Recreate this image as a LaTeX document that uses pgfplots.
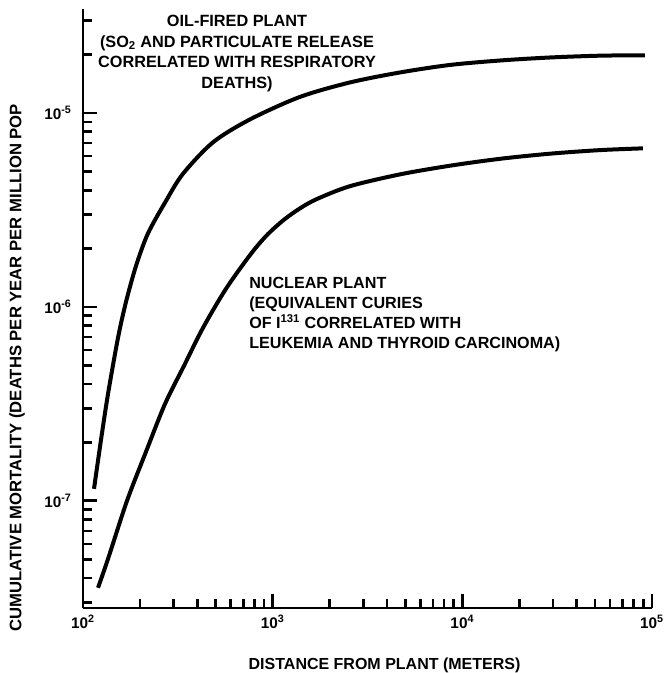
\documentclass[border=0pt]{standalone}
\usepackage{fontspec}
\setmainfont{Liberation Sans}
\usepackage{pgfplots}
\pgfplotsset{compat=1.18}
\begin{document}
\begin{tikzpicture}
\begin{axis}[
  at={(62.25pt,48.75pt)}, anchor=south west,
  scale only axis, width=426.75pt, height=449.25pt,
  xmode=log, ymode=log,
  xmin=100, xmax=100000, ymin=2.8e-8, ymax=3.44e-5,
  axis x line*=bottom, axis y line*=left,
  axis line style={line width=2.2pt},
  xtick={100,1000,10000,100000},
  xticklabels={10\textsuperscript{2},10\textsuperscript{3},10\textsuperscript{4},10\textsuperscript{5}},
  minor xtick={200,300,400,500,600,700,800,900,2000,3000,4000,5000,6000,7000,8000,9000,20000,30000,40000,50000,60000,70000,80000,90000},
  ytick={1e-7,1e-6,1e-5},
  yticklabels={10\textsuperscript{-7},10\textsuperscript{-6},10\textsuperscript{-5}},
  minor ytick={3e-8,4e-8,5e-8,6e-8,7e-8,8e-8,9e-8,2e-7,3e-7,4e-7,5e-7,6e-7,7e-7,8e-7,9e-7,2e-6,3e-6,4e-6,5e-6,6e-6,7e-6,8e-6,9e-6,2e-5,3e-5},
  tick label style={font=\bfseries\fontsize{11.5}{13}\selectfont},
  tick align=inside,
  major tick length=10.5pt, minor tick length=6.5pt,
  tick style={line width=2pt, black},
  every major tick/.append style={line width=2pt, black},
  every minor tick/.append style={line width=2pt, black},
  yticklabel style={xshift=-5pt},
  xticklabel style={yshift=-2pt},
  clip=false,
]
\addplot[line width=3pt, smooth, black] coordinates {
(114.3,1.153e-7) (124.4,2.06e-7) (135.5,3.56e-7) (152.9,6.92e-7)
(168.5,1.06e-6) (190.3,1.627e-6) (220.1,2.395e-6) (273.8,3.52e-6)
(336.6,4.86e-6) (484.4,7.06e-6) (759.2,9.27e-6) (1393,1.211e-5)
(2556,1.438e-5) (4690,1.619e-5) (8602,1.770e-5) (15785,1.866e-5)
(28960,1.934e-5) (53140,1.976e-5) (91760,1.986e-5)
};
\addplot[line width=3pt, smooth, black] coordinates {
(120.0,3.56e-8) (135.5,5.02e-8) (170.6,1.00e-7) (214.8,1.79e-7)
(270.6,3.16e-7) (340.8,4.97e-7) (429.2,7.80e-7) (567.3,1.24e-6)
(759.2,1.85e-6) (921.9,2.318e-6) (1133,2.790e-6) (1393,3.224e-6)
(1712,3.603e-6) (2556,4.195e-6) (4690,4.826e-6) (8602,5.349e-6)
(15785,5.806e-6) (28960,6.17e-6) (53140,6.438e-6) (89540,6.575e-6)
};
\end{axis}
\node[align=center, font=\bfseries\fontsize{12.2}{15.4}\selectfont] at (177.75pt,464.6pt)
  {OIL-FIRED PLANT\\(SO\textsubscript{2} AND PARTICULATE RELEASE\\CORRELATED WITH RESPIRATORY\\DEATHS)};
\node[align=left, anchor=west, inner sep=0pt, font=\bfseries\fontsize{12.1}{14.8}\selectfont] at (186.75pt,268.9pt)
  {NUCLEAR PLANT\\(EQUIVALENT CURIES\\OF I\textsuperscript{131} CORRELATED WITH\\LEUKEMIA AND THYROID CARCINOMA)};
\node[font=\bfseries\fontsize{12}{14}\selectfont] at (288.4pt,5.5pt) {DISTANCE FROM PLANT (METERS)};
\node[rotate=90, font=\bfseries\fontsize{12.5}{14}\selectfont] at (12.75pt,228.75pt) {CUMULATIVE MORTALITY (DEATHS PER YEAR PER MILLION POP};
\pgfresetboundingbox
\useasboundingbox (0pt,0pt) rectangle (497.25pt,504.75pt);
\end{tikzpicture}
\end{document}
